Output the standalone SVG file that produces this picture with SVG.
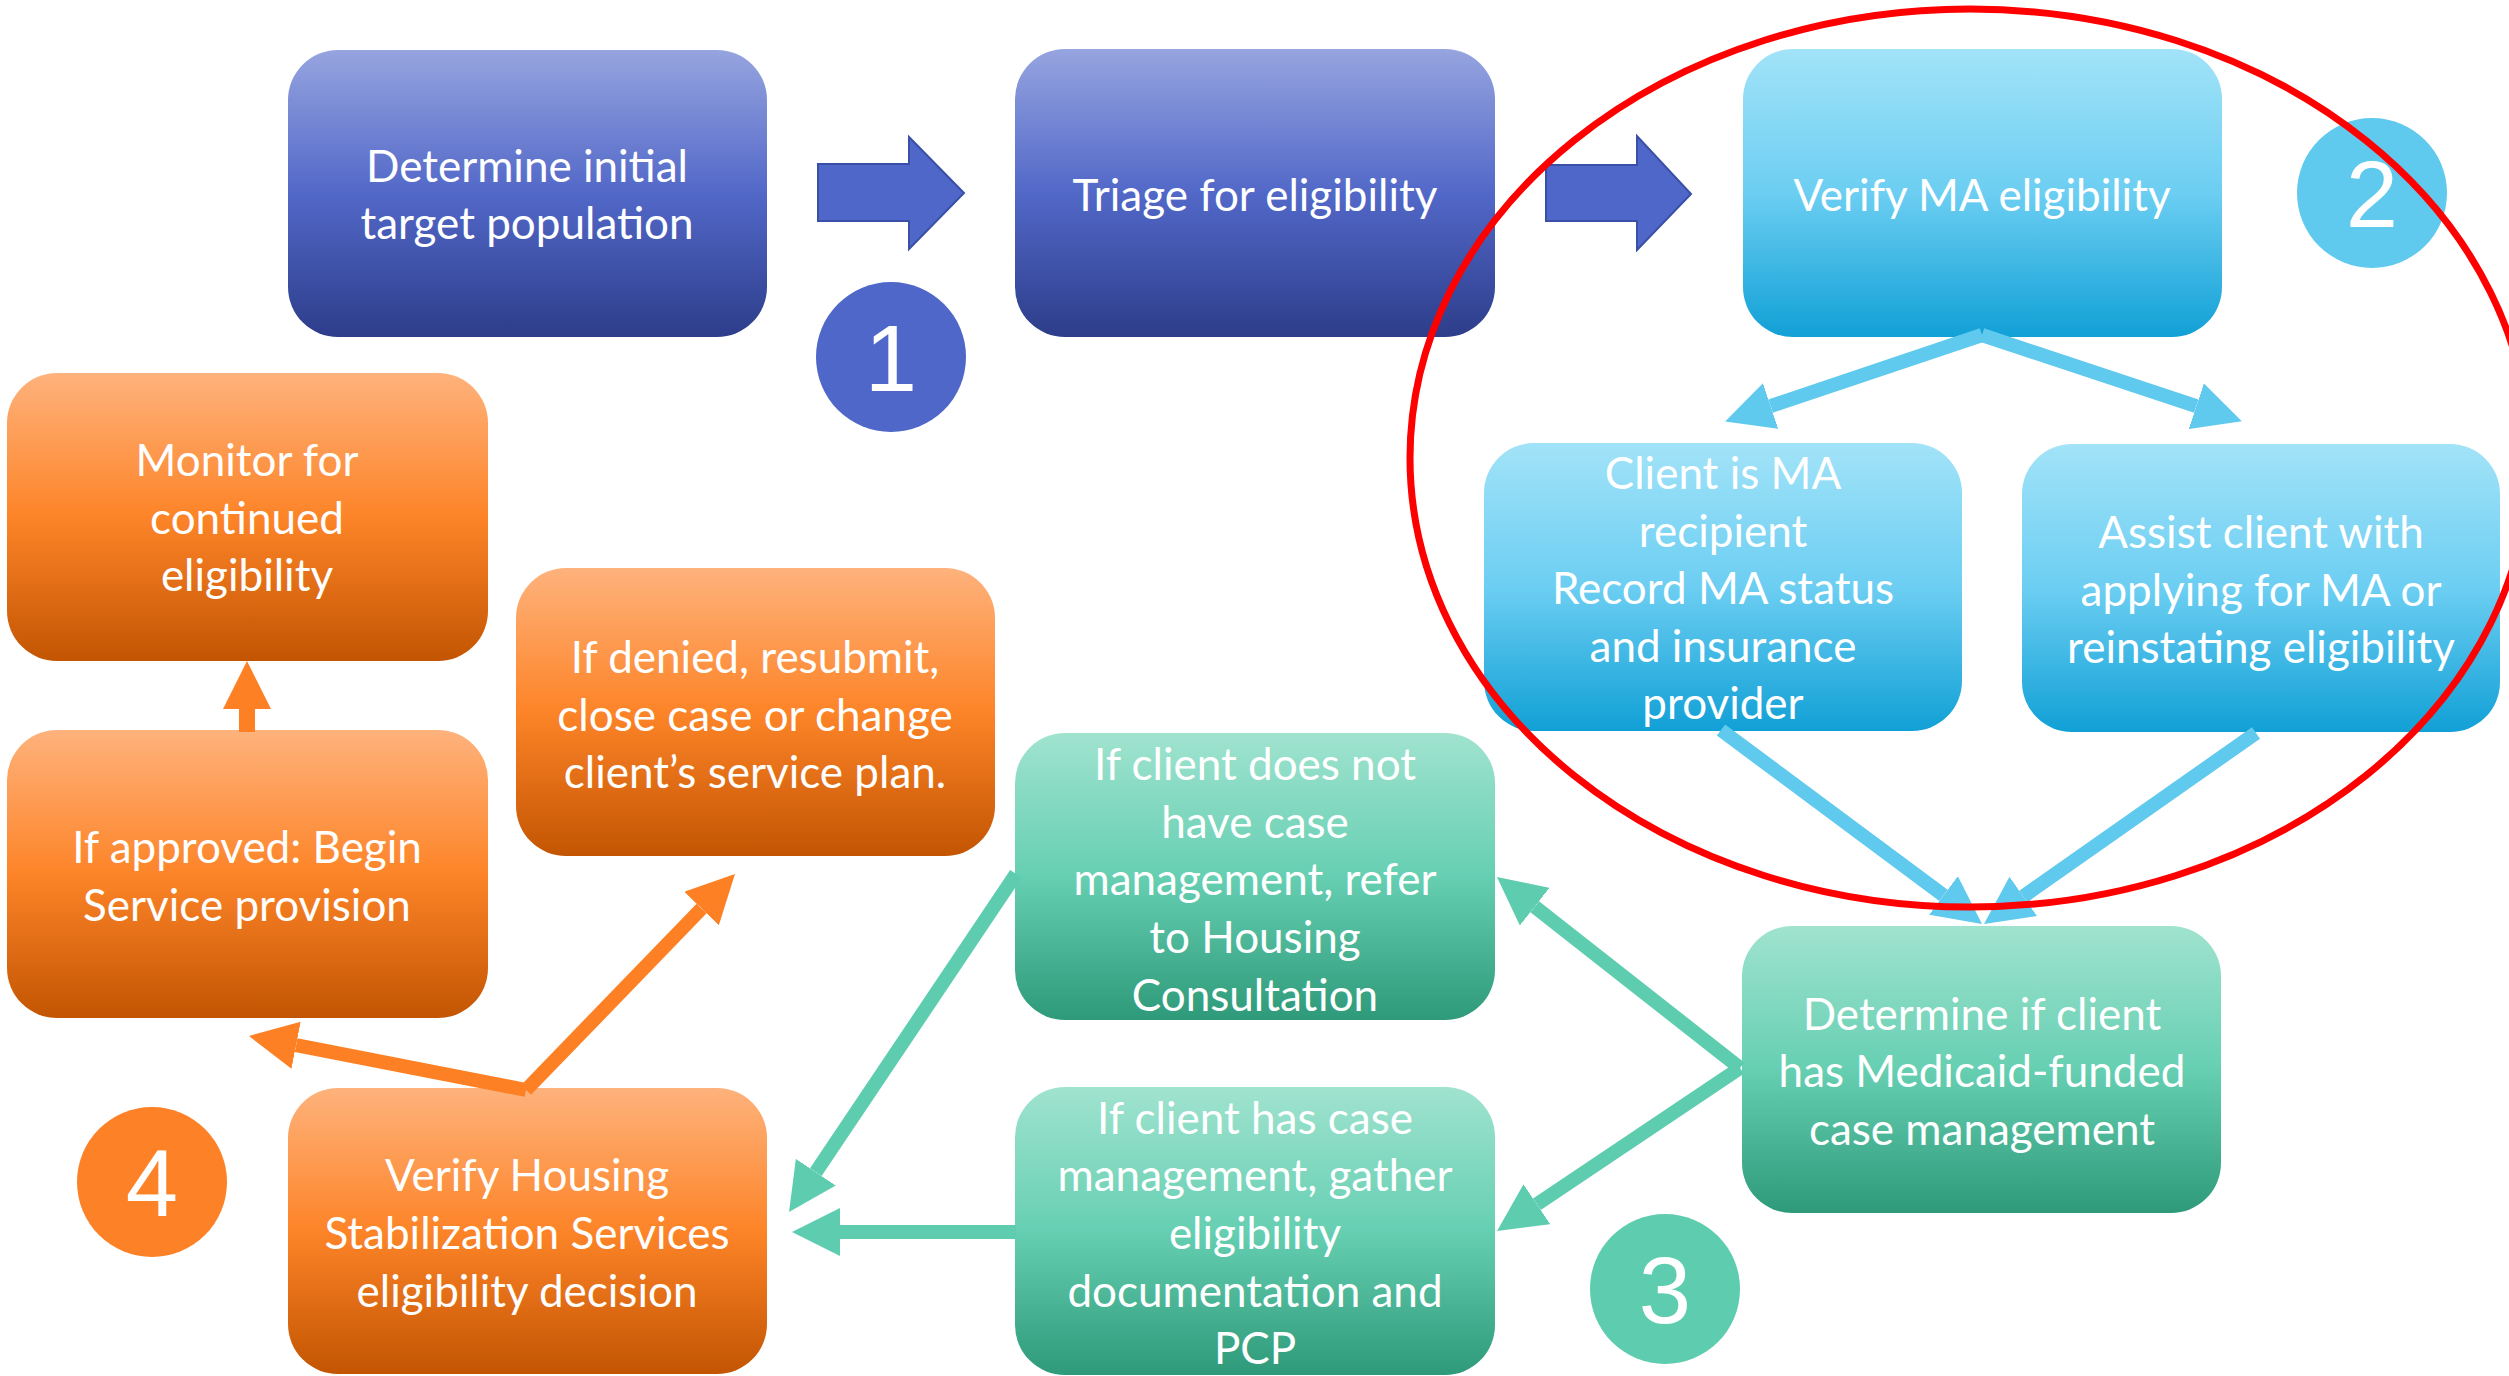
<svg xmlns="http://www.w3.org/2000/svg" width="2509" height="1376" viewBox="0 0 2509 1376">
<defs>
<style>
.t{font-family:Lato,"Open Sans","Liberation Sans",sans-serif;font-size:44px;fill:#fff;text-anchor:middle}
.num{font-family:"Liberation Sans",Arial,sans-serif;font-size:94px;fill:#fff;text-anchor:middle}
.cb{fill:none;stroke:#5FC9EE;stroke-width:14}
.ct{fill:none;stroke:#5ECDAF;stroke-width:14}
.co{fill:none;stroke:#FD8024;stroke-width:14}
</style>
<linearGradient id="gP" x1="0" y1="0" x2="0" y2="1">
<stop offset="0" stop-color="#96A4DF"/><stop offset="0.5" stop-color="#5268C8"/><stop offset="1" stop-color="#2D3D8A"/>
</linearGradient>
<linearGradient id="gB" x1="0" y1="0" x2="0" y2="1">
<stop offset="0" stop-color="#A2E3F8"/><stop offset="0.5" stop-color="#6CCEF2"/><stop offset="1" stop-color="#11A0D6"/>
</linearGradient>
<linearGradient id="gT" x1="0" y1="0" x2="0" y2="1">
<stop offset="0" stop-color="#A0E3CF"/><stop offset="0.5" stop-color="#66CFB2"/><stop offset="1" stop-color="#2E9A79"/>
</linearGradient>
<linearGradient id="gO" x1="0" y1="0" x2="0" y2="1">
<stop offset="0" stop-color="#FEB27C"/><stop offset="0.5" stop-color="#FD8428"/><stop offset="1" stop-color="#C35502"/>
</linearGradient>
<marker id="mB" markerUnits="userSpaceOnUse" markerWidth="48" markerHeight="48" viewBox="0 0 48 48" refX="0" refY="24" orient="auto"><path d="M0,0 L48,24 L0,48 z" fill="#5FC9EE"/></marker>
<marker id="mT" markerUnits="userSpaceOnUse" markerWidth="48" markerHeight="48" viewBox="0 0 48 48" refX="0" refY="24" orient="auto"><path d="M0,0 L48,24 L0,48 z" fill="#5ECDAF"/></marker>
<marker id="mO" markerUnits="userSpaceOnUse" markerWidth="48" markerHeight="48" viewBox="0 0 48 48" refX="0" refY="24" orient="auto"><path d="M0,0 L48,24 L0,48 z" fill="#FD8024"/></marker>
</defs>
<rect width="2509" height="1376" fill="#fff"/>

<g id="n1"><rect x="288" y="50" width="479" height="287" rx="50" fill="url(#gP)"/>
<text class="t" x="527" y="182">Determine initial</text><text class="t" x="527" y="239">target population</text></g>
<g id="n2"><rect x="1015" y="49" width="480" height="288" rx="50" fill="url(#gP)"/>
<text class="t" x="1255" y="211">Triage for eligibility</text></g>
<g id="n3"><rect x="1743" y="49" width="479" height="288" rx="50" fill="url(#gB)"/>
<text class="t" x="1982" y="211">Verify MA eligibility</text></g>
<g id="n4"><rect x="1484" y="443" width="478" height="288" rx="50" fill="url(#gB)"/>
<text class="t" x="1723" y="489">Client is MA</text><text class="t" x="1723" y="547">recipient</text><text class="t" x="1723" y="604">Record MA status</text><text class="t" x="1723" y="662">and insurance</text><text class="t" x="1723" y="719">provider</text></g>
<g id="n5"><rect x="2022" y="444" width="478" height="288" rx="50" fill="url(#gB)"/>
<text class="t" x="2261" y="548">Assist client with</text><text class="t" x="2261" y="606">applying for MA or</text><text class="t" x="2261" y="663">reinstating eligibility</text></g>
<g id="n6"><rect x="1015" y="733" width="480" height="287" rx="50" fill="url(#gT)"/>
<text class="t" x="1255" y="780">If client does not</text><text class="t" x="1255" y="838">have case</text><text class="t" x="1255" y="895">management, refer</text><text class="t" x="1255" y="953">to Housing</text><text class="t" x="1255" y="1011">Consultation</text></g>
<g id="n7"><rect x="1015" y="1087" width="480" height="288" rx="50" fill="url(#gT)"/>
<text class="t" x="1255" y="1134">If client has case</text><text class="t" x="1255" y="1191">management, gather</text><text class="t" x="1255" y="1249">eligibility</text><text class="t" x="1255" y="1307">documentation and</text><text class="t" x="1255" y="1364">PCP</text></g>
<g id="n8"><rect x="1742" y="926" width="479" height="287" rx="50" fill="url(#gT)"/>
<text class="t" x="1982" y="1030">Determine if client</text><text class="t" x="1982" y="1087">has Medicaid-funded</text><text class="t" x="1982" y="1145">case management</text></g>
<g id="n9"><rect x="288" y="1088" width="479" height="286" rx="50" fill="url(#gO)"/>
<text class="t" x="527" y="1191">Verify Housing</text><text class="t" x="527" y="1249">Stabilization Services</text><text class="t" x="527" y="1307">eligibility decision</text></g>
<g id="n10"><rect x="7" y="730" width="481" height="288" rx="50" fill="url(#gO)"/>
<text class="t" x="247" y="863">If approved: Begin</text><text class="t" x="247" y="921">Service provision</text></g>
<g id="n11"><rect x="7" y="373" width="481" height="288" rx="50" fill="url(#gO)"/>
<text class="t" x="247" y="476">Monitor for</text><text class="t" x="247" y="534">continued</text><text class="t" x="247" y="591">eligibility</text></g>
<g id="n12"><rect x="516" y="568" width="479" height="288" rx="50" fill="url(#gO)"/>
<text class="t" x="755" y="673">If denied, resubmit,</text><text class="t" x="755" y="731">close case or change</text><text class="t" x="755" y="788">client’s service plan.</text></g>

<g id="badge1"><circle cx="891" cy="357" r="75" fill="#4F67C8"/><text class="num" x="891" y="391">1</text></g>
<g id="badge2"><circle cx="2372" cy="193" r="75" fill="#5FC9EE"/><text class="num" x="2372" y="227">2</text></g>
<g id="badge3"><circle cx="1665" cy="1289" r="75" fill="#5ECDAF"/><text class="num" x="1665" y="1323">3</text></g>
<g id="badge4"><circle cx="152" cy="1182" r="75" fill="#FD8227"/><text class="num" x="152" y="1216">4</text></g>

<g id="connectors">
<polygon points="818,164 909,164 909,137 964,193 909,249 909,221 818,221" fill="#4F67C8" stroke="#3A4FA6" stroke-width="2"/>
<polygon points="1546,165 1637,165 1637,136 1691,194 1637,250 1637,221 1546,221" fill="#4F67C8" stroke="#3A4FA6" stroke-width="2"/>
<path class="cb" d="M1982,335 L1770.6,406.1" marker-end="url(#mB)"/>
<path class="cb" d="M1982,335 L2196.3,406.2" marker-end="url(#mB)"/>
<path class="cb" d="M1721,730 L1943.5,895.4" marker-end="url(#mB)"/>
<path class="cb" d="M2256,733 L2023.3,896.4" marker-end="url(#mB)"/>
<path class="ct" d="M1740,1068 L1534.7,906.7" marker-end="url(#mT)"/>
<path class="ct" d="M1740,1068 L1536.9,1204.3" marker-end="url(#mT)"/>
<path class="ct" d="M1016,874 L815.8,1172.2" marker-end="url(#mT)"/>
<path class="ct" d="M1016,1232 L840,1232" marker-end="url(#mT)"/>
<path class="co" d="M526,1090 L701.6,908.5" marker-end="url(#mO)"/>
<path class="co" d="M526,1090 L296.1,1045.2" marker-end="url(#mO)"/>
<path class="co" style="stroke-width:16" d="M247,732 L247,709" marker-end="url(#mO)"/>
</g>

<g id="highlight"><ellipse cx="1970" cy="458" rx="560" ry="449" fill="none" stroke="#FF0000" stroke-width="7"/></g>
</svg>
